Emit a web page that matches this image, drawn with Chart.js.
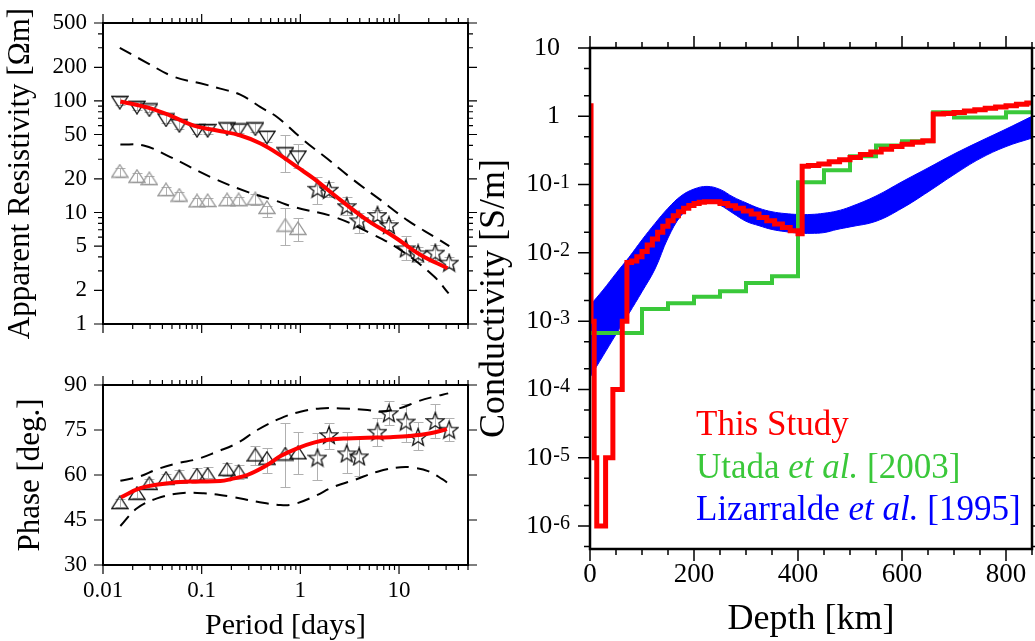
<!DOCTYPE html>
<html>
<head>
<meta charset="utf-8">
<script src="https://cdn.jsdelivr.net/npm/chart.js@4.4.1/dist/chart.umd.min.js"></script>
<style>
html, body { margin: 0; padding: 0; background: #fff; }
body { width: 1035px; height: 641px; position: relative; overflow: hidden; font-family: "Liberation Serif", "Times New Roman", serif; }
canvas { position: absolute; }
#legend div { position: absolute; left: 696px; font-size: 35px; line-height: 35px; white-space: nowrap; }
</style>
</head>
<body>
<canvas id="rho" width="480" height="340" style="left:0;top:0"></canvas>
<canvas id="phase" width="480" height="281" style="left:0;top:360px"></canvas>
<canvas id="cond" width="565" height="641" style="left:470px;top:0"></canvas>
<div id="legend"></div>
<script>
const FONT = "'Liberation Serif', 'Times New Roman', serif";

// ---- left panels: MT responses (period in days) ----
const periodTri = [0.0148, 0.0221, 0.0295, 0.0435, 0.0594, 0.0897, 0.115, 0.181, 0.237, 0.35, 0.459, 0.705, 0.946];
const rhoDown = [97.2, 87.7, 83.2, 67.6, 60.1, 54.3, 54.3, 56.2, 55.0, 56.2, 47.3, 33.6, 31.4];
const rhoDownLow = [92.5, 83.5, 79, 63, 56.5, 51, 51, 53, 52, 53, 43, 23.1, 24.8];
const rhoDownHigh = [108, 97, 92, 76, 67, 61, 61, 63, 62, 64, 54, 49.1, 41.3];
const rhoUp = [23.5, 21.1, 20.1, 16.0, 14.3, 12.7, 12.8, 13.0, 13.0, 13.3, 11.1, 7.7, 7.2];
const rhoUpLow = [21.0, 18.9, 17.9, 14.3, 12.8, 11.4, 11.5, 11.7, 11.7, 11.7, 9.1, 5.1, 5.5];
const rhoUpHigh = [24.8, 22.4, 21.3, 17.0, 15.2, 13.5, 13.6, 13.8, 13.8, 14.5, 11.5, 10.9, 8.85];

const periodStar = [1.49, 1.95, 2.95, 3.94, 6.05, 7.9, 11.7, 15.6, 23.3, 32.2];
const rhoStar = [16.3, 16.0, 11.4, 8.5, 9.5, 7.7, 4.77, 4.3, 4.36, 3.55];
const rhoStarLow = [12.0, 13.8, 9.5, 6.5, 8.5, 6.9, 3.75, 3.6, 3.75, 3.2];
const rhoStarHigh = [20.7, 18.8, 13.8, 9.8, 10.5, 8.6, 6.1, 4.9, 5.1, 3.95];

const phaseTri = [50.8, 53.9, 57.2, 58.9, 59.4, 60.0, 60.2, 61.9, 61.1, 66.7, 65.6, 67.0, 67.4];
const phaseTriLow = [49.5, 52.5, 55.8, 57.6, 58.2, 58.8, 59.0, 59.8, 58.8, 63.5, 60.6, 55.9, 60.3];
const phaseTriHigh = [52.1, 55.3, 58.6, 60.2, 61.8, 62.4, 62.6, 63.9, 63.4, 69.8, 68.9, 77.2, 74.2];
const phaseStar = [65.8, 73.3, 67.2, 66.2, 74.4, 80.6, 77.8, 72.7, 78.0, 75.1];
const phaseStarLow = [58.3, 68.6, 60.6, 59.7, 69.7, 76.7, 71.1, 68.3, 72.2, 71.4];
const phaseStarHigh = [73.9, 77.4, 74.2, 72.2, 79.1, 84.8, 83.7, 77.8, 83.6, 79.1];

const modelRhoPeriod = [0.015, 0.028, 0.0482, 0.083, 0.1436, 0.248, 0.395, 0.63, 0.95, 1.37, 2.56, 4.79, 8.91, 16.6, 31.0];
const modelRho = [99, 87.7, 73.9, 60.1, 54.3, 49.0, 41.5, 32.5, 25.2, 20.1, 12.9, 8.5, 6.06, 4.16, 3.16];
const upperRhoPeriod = [0.0148, 0.0279, 0.052, 0.0969, 0.1545, 0.246, 0.395, 0.585, 1.09, 1.88, 3.5, 6.53, 12.2, 22.7, 32.3];
const upperRho = [299, 220, 165, 144, 129, 114, 88, 71.4, 44.2, 30.3, 19.4, 12.9, 8.5, 6.06, 5.0];
const lowerRhoPeriod = [0.015, 0.0258, 0.0482, 0.123, 0.29, 0.54, 0.86, 2.19, 5.17, 10.4, 22.7, 31.8];
const lowerRho = [40.7, 39.9, 31.4, 20.8, 15.3, 12.9, 11.2, 9.14, 6.5, 4.6, 2.66, 1.88];

const modelPhasePeriod = [0.0152, 0.0239, 0.0381, 0.0608, 0.0969, 0.1545, 0.196, 0.29, 0.46, 0.63, 0.93, 1.37, 2.0, 2.97, 4.74, 8.17, 13.0, 20.8, 30.6];
const modelPhase = [52.6, 55.6, 56.9, 57.7, 57.8, 58.0, 58.6, 60.0, 63.3, 66.3, 68.9, 70.8, 71.8, 72.2, 72.4, 72.6, 73.0, 73.9, 75.3];
const upperPhasePeriod = [0.015, 0.023, 0.0353, 0.0564, 0.09, 0.1436, 0.229, 0.366, 0.63, 1.0, 1.6, 2.56, 4.8, 6.5, 10.3, 15.4, 22, 31.5];
const upperPhase = [58.1, 59.4, 61.9, 63.9, 65.3, 67.8, 70.6, 75.0, 78.9, 81.1, 82.2, 82.2, 81.7, 81.1, 82.3, 84.5, 86.0, 87.2];
const lowerPhasePeriod = [0.015, 0.0221, 0.0353, 0.061, 0.105, 0.196, 0.366, 0.63, 0.86, 1.37, 2.19, 3.5, 6.05, 10.4, 14.2, 20, 27.5, 31.5];
const lowerPhase = [43.0, 48.9, 52.2, 53.9, 53.9, 52.8, 51.1, 50.0, 50.3, 52.8, 56.1, 58.3, 61.1, 62.6, 62.4, 61.2, 58.6, 57.2];

// ---- right panel: conductivity profiles (depth in km) ----
const thisDepth = [0, 2, 8, 13, 30, 44, 62, 71, 80, 90, 100, 110, 120, 130, 140, 150, 160, 170, 180, 190, 200, 210, 220,
  235, 250, 265, 280, 295, 310, 325, 340, 355, 370, 385, 400, 408, 420, 440, 460, 480, 500, 520, 540, 560, 580, 600, 620,
  640, 660, 680, 700, 720, 740, 760, 780, 800, 820, 840, 850];
const thisSigma = [1.43, 1e-3, 1e-5, 1e-6, 1e-5, 1e-4, 1e-3, 7.2e-3, 7.6e-3, 8.8e-3, 1.05e-2, 1.3e-2, 1.6e-2, 2.0e-2, 2.45e-2,
  2.95e-2, 3.5e-2, 4.0e-2, 4.5e-2, 4.95e-2, 5.3e-2, 5.5e-2, 5.6e-2, 5.6e-2, 5.3e-2, 4.9e-2, 4.5e-2, 4.1e-2, 3.7e-2, 3.3e-2,
  2.95e-2, 2.65e-2, 2.35e-2, 2.1e-2, 1.9e-2, 0.185, 0.19, 0.2, 0.215, 0.23, 0.25, 0.275, 0.3, 0.33, 0.36, 0.39, 0.415,
  0.44, 1.08, 1.1, 1.14, 1.19, 1.25, 1.31, 1.37, 1.43, 1.5, 1.57, 1.6];
const utadaDepth = [0, 100, 150, 200, 250, 300, 350, 400, 450, 500, 550, 600, 660, 700, 800, 850];
const utadaSigma = [6.7e-4, 1.5e-3, 1.82e-3, 2.28e-3, 2.73e-3, 3.63e-3, 4.54e-3, 0.108, 0.162, 0.26, 0.372, 0.43, 1.15, 0.96, 1.15, 1.15];
const lizDepth = [0, 25, 50, 75, 100, 125, 150, 175, 200, 225, 250, 275, 300, 325, 350, 375, 400, 425, 450, 475, 500, 550, 600, 650, 700, 750, 800, 850];
const lizHigh = [1.7e-3, 2.85e-3, 5.0e-3, 8.6e-3, 0.0155, 0.027, 0.045, 0.068, 0.086, 0.094, 0.085, 0.066, 0.054, 0.045,
  0.040, 0.0376, 0.0365, 0.0365, 0.038, 0.041, 0.047, 0.068, 0.11, 0.175, 0.28, 0.43, 0.65, 1.0];
const lizLow = [1.5e-4, 3.1e-4, 6.4e-4, 1.3e-3, 2.7e-3, 5.8e-3, 0.0165, 0.035, 0.051, 0.059, 0.05, 0.038, 0.029, 0.025,
  0.022, 0.0205, 0.0195, 0.0193, 0.0198, 0.022, 0.024, 0.029, 0.045, 0.078, 0.14, 0.24, 0.36, 0.48];
const seriesNames = ['This Study', 'Utada et al. [2003]', 'Lizarralde et al. [1995]'];
const seriesColors = ['#ff0000', '#3ac83a', '#0000ff'];

// ---- ticks ----
const periodTicks = [0.01, 0.1, 1, 10];
const periodLabels = ['0.01', '0.1', '1', '10'];
const rhoTicks = [1, 2, 5, 10, 20, 50, 100, 200, 500];
const rhoLabels = ['1', '2', '5', '10', '20', '50', '100', '200', '500'];
const phaseTicks = [30, 45, 60, 75, 90];
const phaseLabels = ['30', '45', '60', '75', '90'];
const depthTicks = [0, 200, 400, 600, 800];
const depthLabels = ['0', '200', '400', '600', '800'];
const sigmaTicks = [1e-6, 1e-5, 1e-4, 1e-3, 1e-2, 1e-1, 1, 10];
const sigmaLabels = [['10', '-6'], ['10', '-5'], ['10', '-4'], ['10', '-3'], ['10', '-2'], ['10', '-1'], ['1', ''], ['10', '']];

// minor tick positions
const periodMinor = [];
periodTicks.forEach(d => { for (let m = 2; m <= 9; m++) if (d * m <= 50) periodMinor.push(d * m); });
const rhoMinor = [];
[1, 10, 100].forEach(d => [3, 4, 6, 7, 8, 9].forEach(m => { if (d * m < 500) rhoMinor.push(d * m); }));
const sigmaMinor = [5e-7];
sigmaTicks.slice(0, -1).forEach(d => { sigmaMinor.push(d * 2, d * 5); });
const depthMinor = [];
for (let d = 50; d <= 850; d += 50) if (d % 200) depthMinor.push(d);

const pts = (xs, ys) => xs.map((x, i) => ({ x: x, y: ys[i] }));

// hollow marker symbols
function marker(w, h, color, path) {
  const c = document.createElement('canvas');
  c.width = w; c.height = h;
  const g = c.getContext('2d');
  g.strokeStyle = color; g.lineWidth = 1.3; g.lineJoin = 'miter';
  g.beginPath(); path(g, w, h); g.closePath(); g.stroke();
  return c;
}
const triDown = marker(18, 15, '#111', (g, w, h) => { g.moveTo(1, 1.5); g.lineTo(w - 1, 1.5); g.lineTo(w / 2, h - 1); });
const triUp = marker(18, 15, '#111', (g, w, h) => { g.moveTo(w / 2, 1); g.lineTo(w - 1, h - 1.5); g.lineTo(1, h - 1.5); });
const triUpGray = marker(18, 15, '#999', (g, w, h) => { g.moveTo(w / 2, 1); g.lineTo(w - 1, h - 1.5); g.lineTo(1, h - 1.5); });
const starImg = marker(20, 20, '#111', (g, w, h) => {
  for (let k = 0; k < 10; k++) {
    const r = k % 2 ? 3.9 : 9.2;
    const t = -Math.PI / 2 + k * Math.PI / 5;
    const px = w / 2 + r * Math.cos(t), py = h / 2 + 0.8 + r * Math.sin(t);
    if (k) g.lineTo(px, py); else g.moveTo(px, py);
  }
});

// error bars read from the dataset arrays
const errorBars = {
  id: 'errorBars',
  beforeDatasetsDraw(chart) {
    const ctx = chart.ctx, xs = chart.scales.x, ys = chart.scales.y;
    ctx.save();
    ctx.strokeStyle = '#b0b0b0';
    ctx.lineWidth = 1;
    chart.data.datasets.forEach(ds => {
      if (!ds.errLow) return;
      ds.data.forEach((p, i) => {
        const px = Math.round(xs.getPixelForValue(p.x)) + 0.5;
        const y0 = Math.round(ys.getPixelForValue(ds.errLow[i])) + 0.5, y1 = Math.round(ys.getPixelForValue(ds.errHigh[i])) + 0.5;
        ctx.beginPath();
        ctx.moveTo(px, y0); ctx.lineTo(px, y1);
        ctx.moveTo(px - 5, y0); ctx.lineTo(px + 5, y0);
        ctx.moveTo(px - 5, y1); ctx.lineTo(px + 5, y1);
        ctx.stroke();
      });
    });
    ctx.restore();
  }
};

// frame box with ticks on all four sides
function framePlugin(o) {
  return {
    id: 'frame',
    afterDraw(chart) {
      const ctx = chart.ctx, a = chart.chartArea, xs = chart.scales.x, ys = chart.scales.y;
      ctx.save();
      ctx.strokeStyle = '#000';
      ctx.lineWidth = o.tickWidth;
      ctx.beginPath();
      const vx = (vals, len) => vals.forEach(v => {
        const p = xs.getPixelForValue(v);
        ctx.moveTo(p, a.bottom); ctx.lineTo(p, a.bottom + len);
        ctx.moveTo(p, a.top); ctx.lineTo(p, a.top - len);
      });
      const vy = (vals, len) => vals.forEach(v => {
        const p = ys.getPixelForValue(v);
        ctx.moveTo(a.left - len, p); ctx.lineTo(a.left, p);
        ctx.moveTo(a.right, p); ctx.lineTo(a.right + len, p);
      });
      vx(o.xMajor, o.major); vx(o.xMinor, o.minor);
      vy(o.yMajor, o.major); vy(o.yMinor, o.minor);
      ctx.stroke();
      ctx.lineWidth = o.lineWidth;
      ctx.strokeRect(a.left, a.top, a.right - a.left, a.bottom - a.top);
      if (o.labels) o.labels(ctx, a, ys);
      ctx.restore();
    }
  };
}

function drawSigmaLabels(ctx, a, ys) {
  ctx.fillStyle = '#000';
  ctx.textAlign = 'right';
  sigmaTicks.forEach((v, i) => {
    const p = ys.getPixelForValue(v);
    const base = sigmaLabels[i][0], exp = sigmaLabels[i][1];
    if (exp) {
      ctx.font = '20px ' + FONT;
      ctx.textBaseline = 'alphabetic';
      ctx.fillText(exp, a.left - 20, p + 3);
      const w = ctx.measureText(exp).width;
      ctx.font = '26px ' + FONT;
      ctx.textBaseline = 'middle';
      ctx.fillText(base, a.left - 21 - w, p);
    } else {
      ctx.font = '26px ' + FONT;
      ctx.textBaseline = 'middle';
      ctx.fillText(base, a.left - 30, p);
    }
  });
}

Chart.defaults.font.family = FONT;
Chart.defaults.color = '#000';

const common = {
  responsive: false, animation: false, events: [], devicePixelRatio: 1,
  plugins: { legend: { display: false }, tooltip: { enabled: false } }
};
const bare = { grid: { display: false, drawTicks: false }, border: { display: false } };
const setTicks = vals => ax => { ax.ticks = vals.map(v => ({ value: v })); };
// fixed axis box size, and no extra room claimed for label overhang
const fixY = w => ax => { ax.width = w; ax.paddingTop = 0; ax.paddingBottom = 0; };
const fixX = h => ax => { ax.height = h; ax.paddingLeft = 0; ax.paddingRight = 0; };

const curve = (xs, ys, color, width, dash) => ({
  data: pts(xs, ys), borderColor: color, borderWidth: width, borderDash: dash || [],
  pointRadius: 0, tension: 0.4, fill: false
});
const symbols = (xs, ys, img, lo, hi) => ({
  data: pts(xs, ys), showLine: false, pointStyle: img, pointRadius: 6, errLow: lo, errHigh: hi
});

// apparent resistivity
new Chart(document.getElementById('rho'), {
  type: 'line',
  data: { datasets: [
    curve(modelRhoPeriod, modelRho, '#ff0000', 4),
    curve(upperRhoPeriod, upperRho, '#000', 2, [13, 8]),
    curve(lowerRhoPeriod, lowerRho, '#000', 2, [13, 8]),
    symbols(periodTri, rhoDown, triDown, rhoDownLow, rhoDownHigh),
    symbols(periodStar, rhoStar, starImg, rhoStarLow, rhoStarHigh),
    symbols(periodTri, rhoUp, triUpGray, rhoUpLow, rhoUpHigh)
  ] },
  options: Object.assign({}, common, {
    layout: { padding: { left: 0, top: 23, right: 12, bottom: 0 } },
    scales: {
      x: Object.assign({}, bare, {
        type: 'logarithmic', min: 0.01, max: 50,
        afterBuildTicks: setTicks(periodTicks),
        ticks: { display: false },
        afterFit: fixX(16)
      }),
      y: Object.assign({}, bare, {
        type: 'logarithmic', min: 1, max: 500,
        afterBuildTicks: setTicks(rhoTicks),
        ticks: { callback: (v, i) => rhoLabels[i], font: { size: 23 }, padding: 16, autoSkip: false },
        title: { display: true, text: 'Apparent Resistivity [Ωm]', font: { size: 31, lineHeight: 1.2 }, padding: { top: 2, bottom: 0 } },
        afterFit: fixY(103)
      })
    }
  }),
  plugins: [errorBars, framePlugin({ xMajor: periodTicks, xMinor: periodMinor, yMajor: rhoTicks, yMinor: rhoMinor,
    major: 9, minor: 5, tickWidth: 1.2, lineWidth: 2 })]
});

// phase
new Chart(document.getElementById('phase'), {
  type: 'line',
  data: { datasets: [
    curve(modelPhasePeriod, modelPhase, '#ff0000', 4),
    curve(upperPhasePeriod, upperPhase, '#000', 2, [13, 8]),
    curve(lowerPhasePeriod, lowerPhase, '#000', 2, [13, 8]),
    symbols(periodTri, phaseTri, triUp, phaseTriLow, phaseTriHigh),
    symbols(periodStar, phaseStar, starImg, phaseStarLow, phaseStarHigh)
  ] },
  options: Object.assign({}, common, {
    layout: { padding: { left: 0, top: 25, right: 12, bottom: 0 } },
    scales: {
      x: Object.assign({}, bare, {
        type: 'logarithmic', min: 0.01, max: 50,
        afterBuildTicks: setTicks(periodTicks),
        ticks: { callback: (v, i) => periodLabels[i], font: { size: 23 }, padding: 12, autoSkip: false, maxRotation: 0 },
        title: { display: true, text: 'Period [days]', font: { size: 30, lineHeight: 1 }, padding: { top: 0, bottom: 0 } },
        afterFit: fixX(76)
      }),
      y: Object.assign({}, bare, {
        type: 'linear', min: 30, max: 90,
        afterBuildTicks: setTicks(phaseTicks),
        ticks: { callback: (v, i) => phaseLabels[i], font: { size: 23 }, padding: 16, autoSkip: false },
        title: { display: true, text: 'Phase [deg.]', font: { size: 31, lineHeight: 1.2 }, padding: { top: 12, bottom: 0 } },
        afterFit: fixY(103)
      })
    }
  }),
  plugins: [errorBars, framePlugin({ xMajor: periodTicks, xMinor: periodMinor, yMajor: phaseTicks, yMinor: [],
    major: 9, minor: 5, tickWidth: 1.2, lineWidth: 2 })]
});

// conductivity
new Chart(document.getElementById('cond'), {
  type: 'line',
  data: { datasets: [
    { data: pts(thisDepth, thisSigma), borderColor: seriesColors[0], borderWidth: 5, stepped: true,
      borderJoinStyle: 'miter', pointRadius: 0, fill: false, order: 0 },
    { data: pts(utadaDepth, utadaSigma), borderColor: seriesColors[1], borderWidth: 4, stepped: true,
      borderJoinStyle: 'miter', pointRadius: 0, fill: false, order: 1 },
    { data: pts(lizDepth, lizHigh), borderColor: seriesColors[2], backgroundColor: seriesColors[2], borderWidth: 1,
      pointRadius: 0, tension: 0.4, fill: '+1', order: 2 },
    { data: pts(lizDepth, lizLow), borderColor: seriesColors[2], borderWidth: 1,
      pointRadius: 0, tension: 0.4, fill: false, order: 3 }
  ] },
  options: Object.assign({}, common, {
    layout: { padding: { left: 0, top: 48, right: 3, bottom: 0 } },
    scales: {
      x: Object.assign({}, bare, {
        type: 'linear', min: 0, max: 850,
        afterBuildTicks: setTicks(depthTicks),
        ticks: { callback: (v, i) => depthLabels[i], font: { size: 27 }, padding: 10, autoSkip: false, maxRotation: 0 },
        title: { display: true, text: 'Depth [km]', font: { size: 36, lineHeight: 1.2 }, padding: { top: 0, bottom: 0 } },
        afterFit: fixX(92)
      }),
      y: Object.assign({}, bare, {
        type: 'logarithmic', min: 4.6e-7, max: 10,
        ticks: { display: false },
        title: { display: true, text: 'Conductivity [S/m]', font: { size: 36, lineHeight: 1.2 }, padding: { top: 3, bottom: 0 } },
        afterFit: fixY(120)
      })
    }
  }),
  plugins: [framePlugin({ xMajor: depthTicks, xMinor: depthMinor, yMajor: sigmaTicks, yMinor: sigmaMinor,
    major: 12, minor: 6, tickWidth: 1.5, lineWidth: 2.5, labels: drawSigmaLabels })]
});

// legend text
const legend = document.getElementById('legend');
seriesNames.forEach((name, i) => {
  const d = document.createElement('div');
  d.style.top = (406 + i * 42.5) + 'px';
  d.style.color = seriesColors[i];
  d.innerHTML = name.replace('et al.', '<i>et al.</i>');
  legend.appendChild(d);
});
</script>
</body>
</html>
